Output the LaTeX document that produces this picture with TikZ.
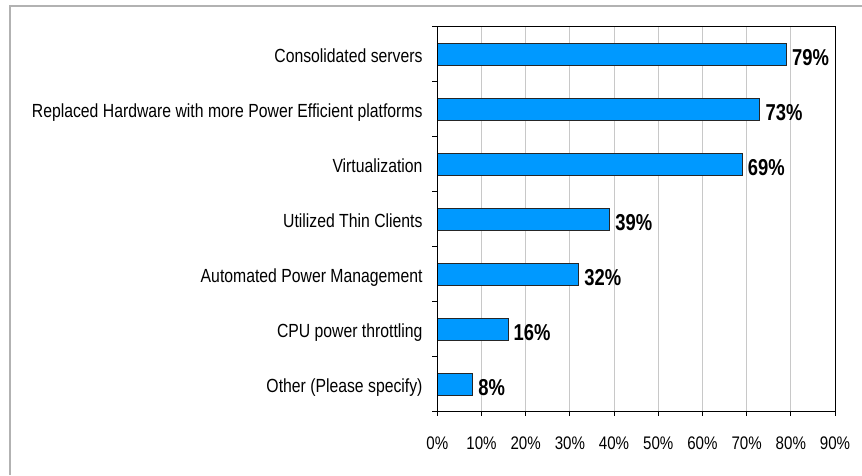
\documentclass[tikz,border=0pt]{standalone}
\usepackage{fontspec}
\setmainfont[FakeStretch=0.83]{Liberation Sans}
\newfontfamily\valfont[FakeStretch=0.8]{Liberation Sans}
\usepackage{xcolor}
\usepackage{tikz}
\usetikzlibrary{positioning}

\definecolor{barblue}{RGB}{0,153,255}
\definecolor{framegray}{RGB}{178,178,178}
\definecolor{gridgray}{RGB}{200,200,200}
\newcommand{\pct}{4.419pt}

\begin{document}
\begin{tikzpicture}[x=1pt, y=-1pt,
  bar/.style={rectangle, draw=black!85, line width=0.9pt, fill=barblue,
              minimum height=22pt, inner sep=0pt, outer sep=0pt, anchor=west},
  cat/.style={inner sep=0pt, text height=14pt, text depth=4pt,
              font=\fontsize{19}{22}\selectfont},
  val/.style={inner sep=0pt, font=\valfont\bfseries\fontsize{23}{25}\selectfont},
  ticklabel/.style={inner sep=0pt, anchor=base, font=\fontsize{18.2}{20}\selectfont},
  grid/.style={draw=gridgray, line width=0.9pt},
  axis/.style={draw=black, line width=0.9pt},
  frame/.style={draw=framegray, line width=1.5pt}
]
\useasboundingbox (0,0) rectangle (862,475);
\draw[frame] (10,475) -- (10,6) -- (862,6);

% grid
\foreach \k in {1,...,8}
  \draw[grid] (437.3+\k*44.19,26) -- ++(0,385);

% bars
\node[bar, minimum width=79*\pct] (cons) at (437.3,54.5) {};
\node[bar, minimum width=73*\pct] (hw)   at (437.3,109.5) {};
\node[bar, minimum width=69*\pct] (virt) at (437.3,164.5) {};
\node[bar, minimum width=39*\pct] (thin) at (437.3,219.5) {};
\node[bar, minimum width=32*\pct] (apm)  at (437.3,274.5) {};
\node[bar, minimum width=16*\pct] (cpu)  at (437.3,329.5) {};
\node[bar, minimum width=8*\pct]  (oth)  at (437.3,384.5) {};

% category labels
\node[cat, left=14.6pt of cons, yshift=-3.2pt] (consl) {Consolidated servers};
\node[cat, left=14.6pt of hw, yshift=-3.2pt]   (hwl)   {Replaced Hardware with more Power Efficient platforms};
\node[cat, left=14.6pt of virt, yshift=-3.2pt] (virtl) {Virtualization};
\node[cat, left=14.6pt of thin, yshift=-3.2pt] (thinl) {Utilized Thin Clients};
\node[cat, left=14.6pt of apm, yshift=-3.2pt]  (apml)  {Automated Power Management};
\node[cat, left=14.6pt of cpu, yshift=-3.2pt]  (cpul)  {CPU power throttling};
\node[cat, left=14.6pt of oth, yshift=-3.2pt]  (othl)  {Other (Please specify)};

% value labels
\node[val, right=5.5pt of cons, yshift=-2.9pt] (consv) {79\%};
\node[val, right=5.5pt of hw, yshift=-2.9pt]   (hwv)   {73\%};
\node[val, right=5.5pt of virt, yshift=-2.9pt] (virtv) {69\%};
\node[val, right=5.5pt of thin, yshift=-2.9pt] (thinv) {39\%};
\node[val, right=5.5pt of apm, yshift=-2.9pt]  (apmv)  {32\%};
\node[val, right=5.5pt of cpu, yshift=-2.9pt]  (cpuv)  {16\%};
\node[val, right=5.5pt of oth, yshift=-2.9pt]  (othv)  {8\%};

% axes and plot border
\draw[axis] (432,26) -- (835,26) -- (835,416);
\draw[axis] (437.3,26) -- (437.3,416);
\draw[axis] (432,411) -- (835,411);
\foreach \j in {1,...,6}
  \draw[axis] (432,26+55*\j) -- (437.3,26+55*\j);
\foreach \k in {1,...,8}
  \draw[axis] (437.3+\k*44.19,411) -- ++(0,5);

% value axis labels
\foreach \k in {0,...,9} {
  \pgfmathtruncatemacro{\p}{10*\k}
  \node[ticklabel] (tick\k) at (437.3+\k*44.19,449) {\p\%};
}
\end{tikzpicture}
\end{document}
